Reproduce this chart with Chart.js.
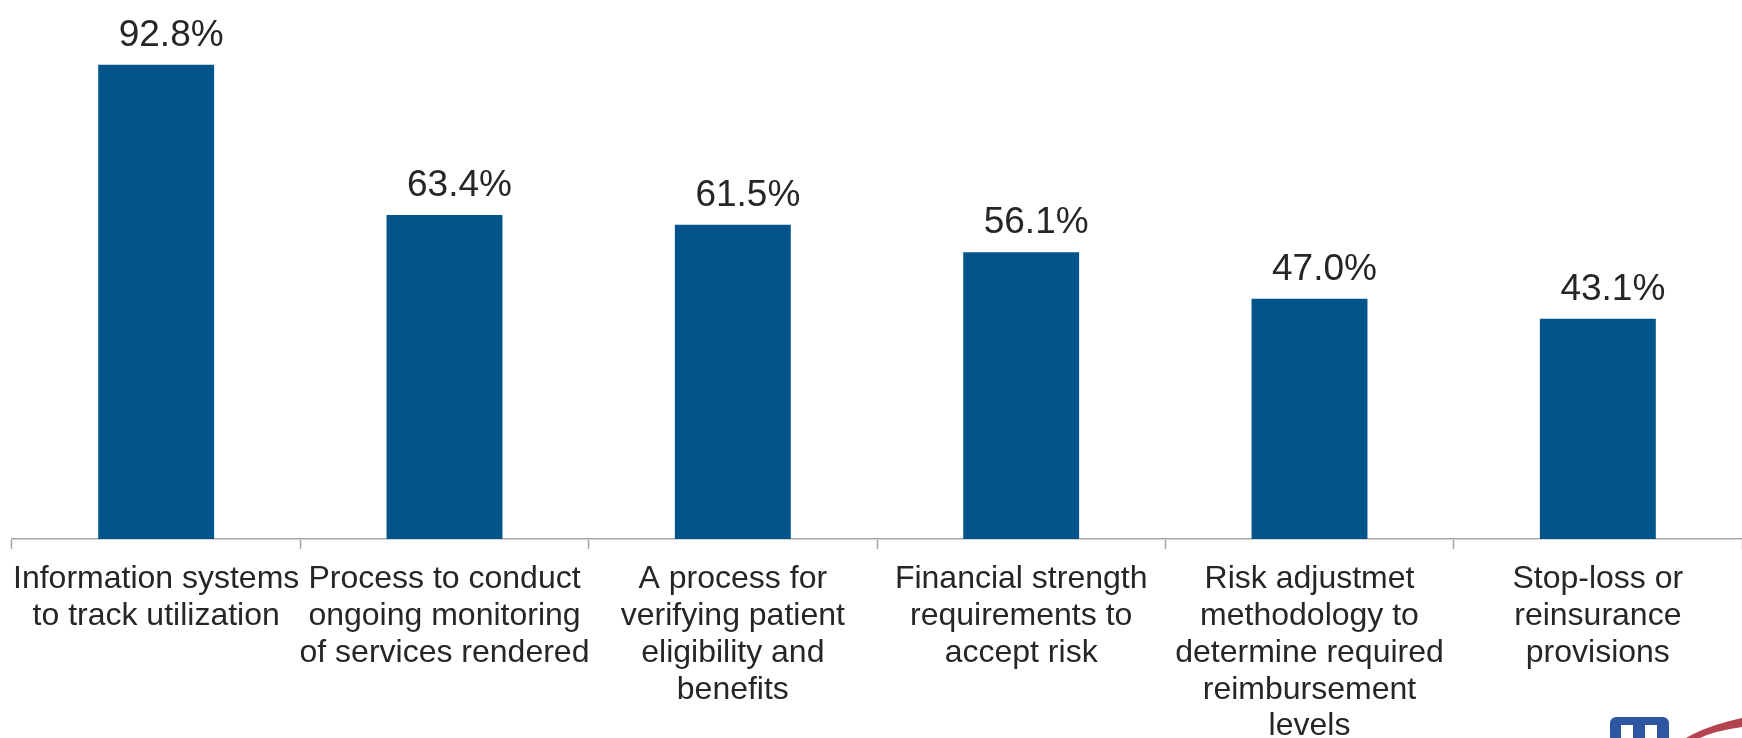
<!DOCTYPE html>
<html>
<head>
<meta charset="utf-8">
<script src="https://cdn.jsdelivr.net/npm/chart.js@4/dist/chart.umd.min.js"></script>
<style>
  html, body { margin: 0; padding: 0; background: #ffffff; }
  #wrap { width: 1742px; height: 738px; position: relative; }
</style>
</head>
<body>
<div id="wrap"><canvas id="chart" width="1742" height="738"></canvas></div>
<script>
// Capabilities reported by respondents
const categories = [
  ['Information systems', 'to track utilization'],
  ['Process to conduct', 'ongoing monitoring', 'of services rendered'],
  ['A process for', 'verifying patient', 'eligibility and', 'benefits'],
  ['Financial strength', 'requirements to', 'accept risk'],
  ['Risk adjustmet', 'methodology to', 'determine required', 'reimbursement', 'levels'],
  ['Stop-loss or', 'reinsurance', 'provisions']
];
const shares = [92.8, 63.4, 61.5, 56.1, 47.0, 43.1];

const BAR_COLOR = '#02548B';
const TEXT_COLOR = '#262626';
const AXIS_COLOR = '#a6a6a6';
const FONT = '"Liberation Sans", Arial, Helvetica, sans-serif';

// Percentage labels above each bar
const valueLabels = {
  id: 'valueLabels',
  afterDatasetsDraw(chart) {
    const ctx = chart.ctx;
    const meta = chart.getDatasetMeta(0);
    ctx.save();
    ctx.font = '37px ' + FONT;
    ctx.fillStyle = TEXT_COLOR;
    ctx.textAlign = 'center';
    ctx.textBaseline = 'alphabetic';
    meta.data.forEach((bar, i) => {
      const v = chart.data.datasets[0].data[i];
      ctx.fillText(v.toFixed(1) + '%', bar.x + 15, bar.y - 19);
    });
    ctx.restore();
  }
};

// Small corner emblem
const emblem = {
  id: 'emblem',
  afterDraw(chart) {
    const ctx = chart.ctx;
    ctx.save();
    // blue rounded square
    ctx.fillStyle = '#2e56a3';
    ctx.beginPath();
    ctx.roundRect(1610, 717, 59, 40, 6);
    ctx.fill();
    ctx.fillStyle = '#ffffff';
    ctx.fillRect(1621, 725, 12, 20);
    ctx.fillRect(1645, 725, 12, 20);
    // red swoosh
    ctx.fillStyle = '#b2434f';
    ctx.beginPath();
    ctx.moveTo(1686, 738);
    ctx.quadraticCurveTo(1706, 726, 1742, 718);
    ctx.lineTo(1742, 727);
    ctx.quadraticCurveTo(1714, 731, 1700, 738);
    ctx.closePath();
    ctx.fill();
    ctx.restore();
  }
};

new Chart(document.getElementById('chart'), {
  type: 'bar',
  data: {
    labels: categories,
    datasets: [{
      data: shares,
      backgroundColor: BAR_COLOR,
      borderWidth: 0,
      categoryPercentage: 1.0,
      barPercentage: 0.402
    }]
  },
  options: {
    responsive: false,
    animation: false,
    devicePixelRatio: 1,
    layout: { padding: { top: 28, left: 12, right: 0, bottom: 0 } },
    plugins: {
      legend: { display: false },
      tooltip: { enabled: false },
      title: { display: false }
    },
    scales: {
      x: {
        offset: true,
        grid: {
          display: true,
          offset: true,
          drawOnChartArea: false,
          drawTicks: true,
          tickLength: 10,
          tickColor: AXIS_COLOR,
          tickWidth: 1.5,
          color: AXIS_COLOR
        },
        border: { display: true, color: AXIS_COLOR, width: 1.5 },
        ticks: {
          color: TEXT_COLOR,
          padding: 12,
          maxRotation: 0,
          minRotation: 0,
          autoSkip: false,
          font: { family: FONT, size: 32, lineHeight: 1.15 }
        },
        afterFit(scale) { scale.height = 199; }
      },
      y: {
        display: false,
        min: 0,
        max: 100
      }
    }
  },
  plugins: [valueLabels, emblem]
});
</script>
</body>
</html>
